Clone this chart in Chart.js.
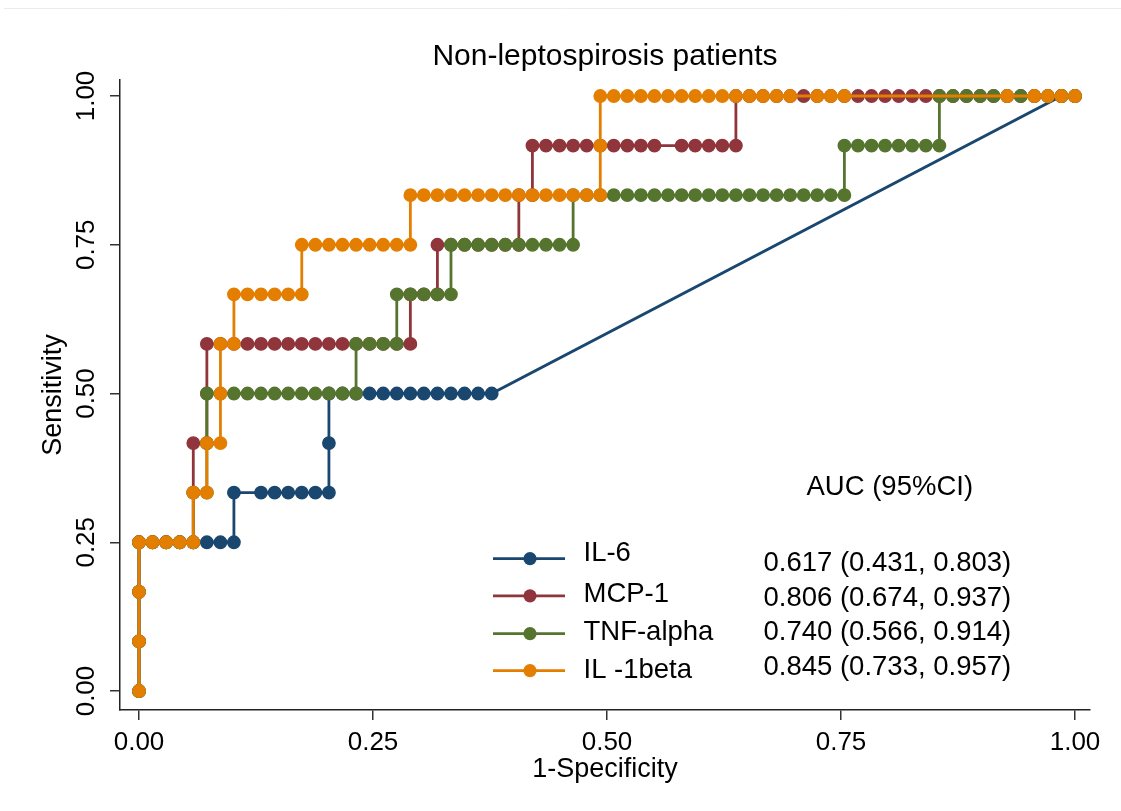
<!DOCTYPE html>
<html>
<head>
<meta charset="utf-8">
<script src="https://cdn.jsdelivr.net/npm/chart.js@4.4.1/dist/chart.umd.min.js"></script>
<style>
  html, body { margin: 0; padding: 0; background: #ffffff; }
  #wrap { width: 1121px; height: 811px; position: relative; }
  canvas { display: block; }
</style>
</head>
<body>
<div id="wrap"><canvas id="c" width="1121" height="811"></canvas></div>
<script>
// ---------------- data ----------------
const chartTitle = 'Non-leptospirosis patients';
const xAxisTitle = '1-Specificity';
const yAxisTitle = 'Sensitivity';
const xTickValues = [0, 0.25, 0.5, 0.75, 1];
const yTickValues = [0, 0.25, 0.5, 0.75, 1];
const seriesNames = ['IL-6', 'MCP-1', 'TNF-alpha', 'IL -1beta'];
const aucHeader = 'AUC (95%CI)';
const aucLabels = ['0.617 (0.431, 0.803)', '0.806 (0.674, 0.937)', '0.740 (0.566, 0.914)', '0.845 (0.733, 0.957)'];
const seriesColors = ['#1a476f', '#90353b', '#55752f', '#e37e00'];

const il6FPR = [0,0,0,0,0.0145,0.0290,0.0435,0.0580,0.0725,0.0870,0.1014,0.1014,0.1304,0.1449,0.1594,0.1739,0.1884,0.2029,0.2029,0.2029,0.2174,0.2319,0.2464,0.2609,0.2754,0.2899,0.3043,0.3188,0.3333,0.3478,0.3623,0.3768,0.9855,1];
const il6TPR = [0,0.0833,0.1667,0.25,0.25,0.25,0.25,0.25,0.25,0.25,0.25,0.3333,0.3333,0.3333,0.3333,0.3333,0.3333,0.3333,0.4167,0.5,0.5,0.5,0.5,0.5,0.5,0.5,0.5,0.5,0.5,0.5,0.5,0.5,1,1];

const mcp1FPR = [0,0,0,0,0.0145,0.0290,0.0435,0.0580,0.0580,0.0580,0.0725,0.0725,0.0725,
  0.0870,0.1014,0.1159,0.1304,0.1449,0.1594,0.1739,0.1884,0.2029,0.2174,0.2319,0.2464,0.2609,0.2754,0.2899,
  0.2899,0.3043,0.3188,0.3188,
  0.3333,0.3478,0.3623,0.3768,0.3913,0.4058,
  0.4058,0.4203,0.4203,
  0.4348,0.4493,0.4638,0.4783,0.4928,0.5072,0.5217,0.5362,0.5507,
  0.5797,0.5942,0.6087,0.6232,0.6377,
  0.6377,
  0.6522,0.6667,0.6812,0.6957,0.7101,0.7246,0.7391,0.7536,0.7681,0.7826,0.7971,0.8116,0.8261,0.8406,0.8551,0.8696,0.8841,0.8986,0.9130,0.9275,0.9420,0.9565,0.9710,0.9855,1];
const mcp1TPR = [0,0.0833,0.1667,0.25,0.25,0.25,0.25,0.25,0.3333,0.4167,0.4167,0.5,0.5833,
  0.5833,0.5833,0.5833,0.5833,0.5833,0.5833,0.5833,0.5833,0.5833,0.5833,0.5833,0.5833,0.5833,0.5833,0.5833,
  0.6667,0.6667,0.6667,0.75,
  0.75,0.75,0.75,0.75,0.75,0.75,
  0.8333,0.8333,0.9167,
  0.9167,0.9167,0.9167,0.9167,0.9167,0.9167,0.9167,0.9167,0.9167,
  0.9167,0.9167,0.9167,0.9167,0.9167,
  1,
  1,1,1,1,1,1,1,1,1,1,1,1,1,1,1,1,1,1,1,1,1,1,1,1,1];

const tnfFPR = [0,0,0,0,0.0145,0.0290,0.0435,0.0580,0.0580,0.0725,0.0725,0.0725,
  0.0870,0.1014,0.1159,0.1304,0.1449,0.1594,0.1739,0.1884,0.2029,0.2174,0.2319,
  0.2319,0.2464,0.2609,0.2754,
  0.2754,0.2899,0.3043,0.3188,0.3333,
  0.3333,0.3478,0.3623,0.3768,0.3913,0.4058,0.4203,0.4348,0.4493,0.4638,
  0.4638,0.4783,0.4928,0.5072,0.5217,0.5362,0.5507,0.5652,0.5797,0.5942,0.6087,0.6232,0.6377,0.6522,0.6667,0.6812,0.6957,0.7101,0.7246,0.7391,0.7536,
  0.7536,0.7681,0.7826,0.7971,0.8116,0.8261,0.8406,0.8551,
  0.8551,0.8696,0.8841,0.8986,0.9130,0.9275,0.9420,0.9565,0.9710,0.9855,1];
const tnfTPR = [0,0.0833,0.1667,0.25,0.25,0.25,0.25,0.25,0.3333,0.3333,0.4167,0.5,
  0.5,0.5,0.5,0.5,0.5,0.5,0.5,0.5,0.5,0.5,0.5,
  0.5833,0.5833,0.5833,0.5833,
  0.6667,0.6667,0.6667,0.6667,0.6667,
  0.75,0.75,0.75,0.75,0.75,0.75,0.75,0.75,0.75,0.75,
  0.8333,0.8333,0.8333,0.8333,0.8333,0.8333,0.8333,0.8333,0.8333,0.8333,0.8333,0.8333,0.8333,0.8333,0.8333,0.8333,0.8333,0.8333,0.8333,0.8333,0.8333,
  0.9167,0.9167,0.9167,0.9167,0.9167,0.9167,0.9167,0.9167,
  1,1,1,1,1,1,1,1,1,1,1];

const il1bFPR = [0,0,0,0,0.0145,0.0290,0.0435,0.0580,0.0580,0.0725,0.0725,0.0870,0.0870,0.0870,0.1014,0.1014,
  0.1159,0.1304,0.1449,0.1594,0.1739,
  0.1739,0.1884,0.2029,0.2174,0.2319,0.2464,0.2609,0.2754,0.2899,
  0.2899,0.3043,0.3188,0.3333,0.3478,0.3623,0.3768,0.3913,0.4058,0.4203,0.4348,0.4493,0.4638,0.4783,0.4928,
  0.4928,0.4928,
  0.5072,0.5217,0.5362,0.5507,0.5652,0.5797,0.5942,0.6087,0.6232,0.6377,0.6522,0.6667,0.6812,0.6957,
  0.7246,0.7391,0.7536,0.9275,0.9565,0.9710,0.9855,1];
const il1bTPR = [0,0.0833,0.1667,0.25,0.25,0.25,0.25,0.25,0.3333,0.3333,0.4167,0.4167,0.5,0.5833,0.5833,0.6667,
  0.6667,0.6667,0.6667,0.6667,0.6667,
  0.75,0.75,0.75,0.75,0.75,0.75,0.75,0.75,0.75,
  0.8333,0.8333,0.8333,0.8333,0.8333,0.8333,0.8333,0.8333,0.8333,0.8333,0.8333,0.8333,0.8333,0.8333,0.8333,
  0.9167,1,
  1,1,1,1,1,1,1,1,1,1,1,1,1,1,
  1,1,1,1,1,1,1,1];

const seriesFPR = [il6FPR, mcp1FPR, tnfFPR, il1bFPR];
const seriesTPR = [il6TPR, mcp1TPR, tnfTPR, il1bTPR];

// ---------------- chart ----------------
const FONT = '"Liberation Sans", Arial, Helvetica, sans-serif';
const TEXT = '#000000';

const datasets = seriesNames.map((name, i) => ({
  label: name,
  data: seriesFPR[i].map((x, j) => ({ x: x, y: seriesTPR[i][j] })),
  showLine: true,
  borderColor: seriesColors[i],
  backgroundColor: seriesColors[i],
  pointBackgroundColor: seriesColors[i],
  pointBorderColor: seriesColors[i],
  borderWidth: 2.8,
  pointRadius: 6.2,
  pointBorderWidth: 1.4,
  pointHoverRadius: 6.2,
  tension: 0,
  order: seriesNames.length - i
}));

const extras = {
  id: 'extras',
  beforeDraw(chart) {
    const ctx = chart.ctx;
    ctx.save();
    ctx.fillStyle = '#ffffff';
    ctx.fillRect(0, 0, chart.width, chart.height);
    ctx.strokeStyle = '#ececec';
    ctx.lineWidth = 1;
    ctx.beginPath();
    ctx.moveTo(4, 8.5);
    ctx.lineTo(chart.width, 8.5);
    ctx.stroke();
    ctx.restore();
  },
  afterDraw(chart) {
    const ctx = chart.ctx;
    const ys = chart.scales.y;
    ctx.save();
    // rotated y tick labels
    ctx.fillStyle = TEXT;
    ctx.font = '26px ' + FONT;
    ctx.textAlign = 'center';
    ctx.textBaseline = 'alphabetic';
    yTickValues.forEach(v => {
      const py = ys.getPixelForValue(v);
      ctx.save();
      ctx.translate(93.5, py);
      ctx.rotate(-Math.PI / 2);
      ctx.fillText(v.toFixed(2), 0, 0);
      ctx.restore();
    });
    // legend inside the plot
    const lineRows = [558.7, 595.8, 633.7, 670.6];
    const labelRows = [553.7, 594.7, 632.7, 670.3];
    const aucRows = [563.5, 598.2, 632.7, 667.7];
    ctx.font = '27.5px ' + FONT;
    ctx.textAlign = 'left';
    ctx.textBaseline = 'middle';
    ctx.fillText(aucHeader, 806.5, 487);
    seriesNames.forEach((name, i) => {
      const c = seriesColors[i];
      ctx.strokeStyle = c;
      ctx.lineWidth = 2.8;
      ctx.beginPath();
      ctx.moveTo(493, lineRows[i]);
      ctx.lineTo(565, lineRows[i]);
      ctx.stroke();
      ctx.fillStyle = c;
      ctx.beginPath();
      ctx.arc(530, lineRows[i], 6.6, 0, Math.PI * 2);
      ctx.fill();
      ctx.fillStyle = TEXT;
      ctx.fillText(name, 583.5, labelRows[i]);
      ctx.fillText(aucLabels[i], 763.5, aucRows[i]);
    });
    ctx.restore();
  }
};

new Chart(document.getElementById('c'), {
  type: 'scatter',
  data: { datasets: datasets },
  options: {
    responsive: false,
    animation: false,
    devicePixelRatio: 1,
    layout: { padding: { left: 0, right: 31, top: 0, bottom: 0 } },
    plugins: {
      legend: { display: false },
      tooltip: { enabled: false },
      title: {
        display: true,
        text: chartTitle,
        color: TEXT,
        fullSize: false,
        font: { family: FONT, size: 30, weight: 'normal' },
        padding: { top: 39, bottom: 5 }
      }
    },
    scales: {
      x: {
        type: 'linear',
        min: -0.0203,
        max: 1.016,
        afterBuildTicks: s => { s.ticks = xTickValues.map(v => ({ value: v })); },
        afterFit: s => { s.height = 101; },
        ticks: {
          callback: v => Number(v).toFixed(2),
          color: TEXT,
          font: { family: FONT, size: 26 },
          padding: 7,
          maxRotation: 0,
          minRotation: 0,
          autoSkip: false
        },
        grid: { drawOnChartArea: false, drawTicks: true, tickLength: 10, color: '#333333', lineWidth: 1.5 },
        border: { display: true, color: '#222222', width: 1.5 },
        title: {
          display: true,
          text: xAxisTitle,
          color: TEXT,
          font: { family: FONT, size: 27 },
          padding: { top: 0, bottom: 25 }
        }
      },
      y: {
        type: 'linear',
        min: -0.0319,
        max: 1.0269,
        afterBuildTicks: s => { s.ticks = yTickValues.map(v => ({ value: v })); },
        afterFit: s => { s.width = 120; },
        ticks: { display: false },
        grid: { drawOnChartArea: false, drawTicks: true, tickLength: 10, color: '#333333', lineWidth: 1.5 },
        border: { display: true, color: '#222222', width: 1.5 },
        title: {
          display: true,
          text: yAxisTitle,
          color: TEXT,
          font: { family: FONT, size: 27 },
          padding: { top: 37, bottom: 0 }
        }
      }
    }
  },
  plugins: [extras]
});
</script>
</body>
</html>
